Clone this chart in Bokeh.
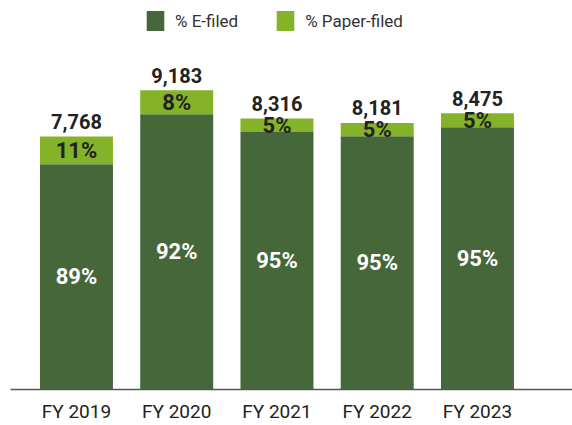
from bokeh.plotting import figure
from bokeh.models import ColumnDataSource, Range1d, FixedTicker, Legend
from bokeh.core.properties import value
from bokeh.embed import file_html
from bokeh.resources import INLINE

categories = ["FY 2019", "FY 2020", "FY 2021", "FY 2022", "FY 2023"]
totals = [7768, 9183, 8316, 8181, 8475]
pct_efiled = [89, 92, 95, 95, 95]
pct_paper = [11, 8, 5, 5, 5]

DARK = "#46673A"
LIGHT = "#84B32A"
FONT = "Roboto"

xs = list(range(len(categories)))
efiled = [t * e / 100 for t, e in zip(totals, pct_efiled)]
paper = [t * q / 100 for t, q in zip(totals, pct_paper)]

src = ColumnDataSource(dict(
    x=xs,
    efiled=efiled,
    paper=paper,
    total=totals,
    total_lbl=[f"{t:,}" for t in totals],
    e_lbl=[f"{v}%" for v in pct_efiled],
    p_lbl=[f"{v}%" for v in pct_paper],
    e_mid=[v / 2 for v in efiled],
    p_mid=[e + q / 2 for e, q in zip(efiled, paper)],
))

p = figure(width=572, height=425, output_backend="svg", toolbar_location=None,
           x_range=Range1d(-0.658, 4.948), y_range=Range1d(0, 11938),
           min_border_left=10, min_border_right=0, min_border_top=0, min_border_bottom=35)

rs = p.vbar_stack(["efiled", "paper"], x="x", width=0.728, source=src,
                  color=[DARK, LIGHT], line_color=None)

p.text(x="x", y="total", text="total_lbl", source=src, text_align="center",
       text_baseline="alphabetic", y_offset=-15, text_font=value(FONT),
       text_font_style="bold", text_font_size="20px", text_color="#222222")
p.text(x="x", y="p_mid", text="p_lbl", source=src, text_align="center",
       text_baseline="middle", text_font=value(FONT), text_font_style="bold",
       text_font_size="22px", text_color="#222222")
p.text(x="x", y="e_mid", text="e_lbl", source=src, text_align="center",
       text_baseline="middle", text_font=value(FONT), text_font_style="bold",
       text_font_size="22px", text_color="white")

legend = Legend(items=[("% E-filed", [rs[0]]), ("% Paper-filed", [rs[1]])],
                orientation="horizontal", location=(134, 356),
                glyph_width=22, glyph_height=25, label_standoff=9, spacing=36,
                padding=0, margin=0, border_line_color=None,
                background_fill_alpha=0, label_text_font=FONT,
                label_text_font_size="17px", label_text_color="#333333")
p.add_layout(legend)

p.xaxis.ticker = FixedTicker(ticks=xs)
p.xaxis.major_label_overrides = {i: c for i, c in zip(xs, categories)}
p.xaxis.major_tick_line_color = None
p.xaxis.major_tick_out = 0
p.xaxis.major_tick_in = 0
p.xaxis.minor_tick_line_color = None
p.xaxis.minor_tick_out = 0
p.xaxis.axis_line_color = "#555555"
p.xaxis.axis_line_width = 1.5
p.xaxis.major_label_standoff = 10
p.xaxis.major_label_text_font = FONT
p.xaxis.major_label_text_font_size = "19px"
p.xaxis.major_label_text_color = "#222222"
p.yaxis.visible = False
p.xgrid.visible = False
p.ygrid.visible = False
p.outline_line_color = None

open("out.html", "w").write(file_html(p, INLINE))
